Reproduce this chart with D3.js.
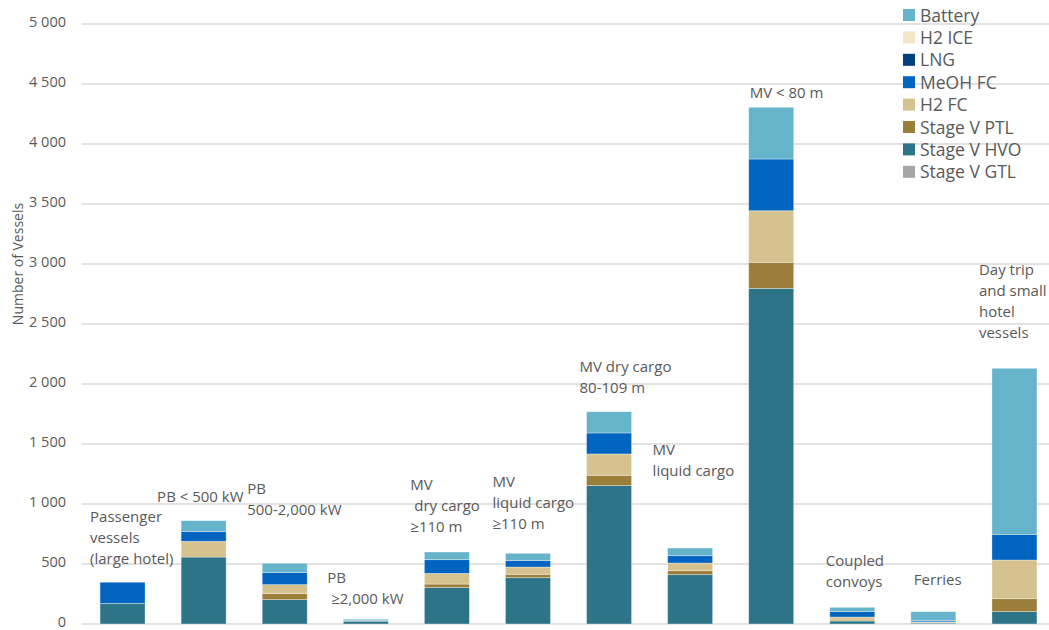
<!DOCTYPE html>
<html>
<head>
<meta charset="utf-8">
<script src="https://cdn.jsdelivr.net/npm/d3@7"></script>
<style>
  body { margin: 0; background: #fff; }
  svg { display: block; font-family: "Open Sans", "Noto Sans", sans-serif; }
</style>
</head>
<body>
<svg id="chart" width="1049" height="630"></svg>
<script>
// ---- data ----
const categories = [
  "Passenger vessels (large hotel)", "PB < 500 kW", "PB 500-2,000 kW", "PB ≥2,000 kW",
  "MV dry cargo ≥110 m", "MV liquid cargo ≥110 m", "MV dry cargo 80-109 m", "MV liquid cargo",
  "MV < 80 m", "Coupled convoys", "Ferries", "Day trip and small hotel vessels"
];
const seriesNames = ["Stage V GTL", "Stage V HVO", "Stage V PTL", "H2 FC", "MeOH FC", "LNG", "H2 ICE", "Battery"];
const stageVGTL = [0, 0, 0, 0, 0, 0, 0, 0, 0, 0, 0, 0];
const stageVHVO = [172, 558, 203, 24, 303, 386, 1153, 411, 2797, 25, 8, 103];
const stageVPTL = [0, 0, 50, 2, 30, 28, 86, 33, 217, 8, 4, 108];
const h2FC      = [0, 131, 75, 4, 89, 61, 178, 64, 430, 25, 6, 322];
const meohFC    = [176, 83, 100, 4, 114, 53, 175, 61, 431, 45, 12, 214];
const lng       = [0, 0, 0, 0, 0, 0, 0, 0, 0, 0, 0, 0];
const h2ICE     = [0, 0, 0, 0, 0, 0, 0, 0, 0, 0, 0, 0];
const battery   = [0, 89, 78, 8, 64, 61, 177, 64, 431, 36, 73, 1384];
const yTicks = [0, 500, 1000, 1500, 2000, 2500, 3000, 3500, 4000, 4500, 5000];
const legendOrder = ["Battery", "H2 ICE", "LNG", "MeOH FC", "H2 FC", "Stage V PTL", "Stage V HVO", "Stage V GTL"];
// category label lines (as shown above each bar)
const labelLines = [
  ["Passenger", "vessels", "(large hotel)"],
  ["PB < 500 kW"],
  ["PB", "500-2,000 kW"],
  ["PB", " ≥2,000 kW"],
  ["MV", " dry cargo", "≥110 m"],
  ["MV", "liquid cargo", "≥110 m"],
  ["MV dry cargo", "80-109 m"],
  ["MV", "liquid cargo"],
  ["MV < 80 m"],
  ["Coupled", "convoys"],
  ["Ferries"],
  ["Day trip", "and small", "hotel", "vessels"]
];

// ---- layout / style ----
const colors = {
  "Battery": "#66b3cc", "H2 ICE": "#f2e5c8", "LNG": "#003f80", "MeOH FC": "#0064c0",
  "H2 FC": "#d5c28f", "Stage V PTL": "#9b7e3a", "Stage V HVO": "#2e7489", "Stage V GTL": "#a6a6a6"
};
// label anchor offsets relative to band start (dx) and first-line y
const labelPos = [
  {dx: -10, y: 517}, {dx: -24, y: 497}, {dx: -15, y: 489}, {dx: -16, y: 578},
  {dx: -14, y: 485}, {dx: -13, y: 482}, {dx: -7, y: 367}, {dx: -15, y: 450},
  {dx: 1, y: 93}, {dx: -4, y: 561}, {dx: 3, y: 580}, {dx: -13, y: 270}
];

const svg = d3.select("#chart");
const mLeft = 82, mRight = 1055, mTop = 24, mBottom = 624;

const x = d3.scaleBand().domain(categories).range([mLeft, mRight])
  .paddingInner(0.445).paddingOuter(0.2225);
const y = d3.scaleLinear().domain([0, 5000]).range([mBottom, mTop]);

const seriesArrays = {
  "Stage V GTL": stageVGTL, "Stage V HVO": stageVHVO, "Stage V PTL": stageVPTL, "H2 FC": h2FC,
  "MeOH FC": meohFC, "LNG": lng, "H2 ICE": h2ICE, "Battery": battery
};
const table = categories.map((c, i) => {
  const row = {category: c};
  seriesNames.forEach(s => row[s] = seriesArrays[s][i]);
  return row;
});
const stacked = d3.stack().keys(seriesNames)(table);

// gridlines
svg.append("g").selectAll("line").data(yTicks).join("line")
  .attr("x1", mLeft).attr("x2", 1049)
  .attr("y1", d => y(d)).attr("y2", d => y(d))
  .attr("stroke", "#d9d9d9").attr("stroke-width", 1.5);

// y axis labels
const yAxis = d3.axisLeft(y).tickValues(yTicks)
  .tickFormat(d => d3.format(",")(d).replace(/,/g, " "))
  .tickSize(0).tickPadding(0);
const ya = svg.append("g").attr("transform", `translate(66,-2.5)`).call(yAxis);
ya.select(".domain").remove();
ya.selectAll("text").attr("fill", "#595959").style("font-size", "14.5px")
  .style("font-family", '"Open Sans", sans-serif');

svg.append("text")
  .attr("transform", `translate(23,264) rotate(-90)`)
  .attr("text-anchor", "middle").attr("fill", "#595959")
  .style("font-size", "14px").text("Number of Vessels");

// bars
svg.append("g").selectAll("g").data(stacked).join("g")
  .attr("fill", d => colors[d.key])
  .selectAll("rect").data(d => d.filter(p => p[1] - p[0] > 0)).join("rect")
  .attr("x", d => x(d.data.category))
  .attr("width", x.bandwidth())
  .attr("y", d => y(d[1]))
  .attr("height", d => y(d[0]) - y(d[1]))
  .attr("stroke", "rgba(255,255,255,0.45)").attr("stroke-width", 0.75);

// category labels
const lg = svg.append("g").attr("fill", "#595959").style("font-size", "15px");
categories.forEach((c, i) => {
  const t = lg.append("text")
    .attr("x", x(c) + labelPos[i].dx)
    .attr("y", labelPos[i].y + 5);
  labelLines[i].forEach((line, j) => {
    t.append("tspan").attr("x", x(c) + labelPos[i].dx).attr("dy", j === 0 ? 0 : 21)
      .attr("xml:space", "preserve").style("white-space", "pre").text(line);
  });
});

// legend
const leg = svg.append("g").attr("transform", "translate(903,9)");
const li = leg.selectAll("g").data(legendOrder).join("g")
  .attr("transform", (d, i) => `translate(0,${i * 22.4})`);
li.append("rect").attr("width", 12).attr("height", 12).attr("fill", d => colors[d]);
li.append("text").attr("x", 17).attr("y", 12.5).attr("fill", "#595959")
  .style("font-size", "17.5px").text(d => d);
</script>
</body>
</html>
